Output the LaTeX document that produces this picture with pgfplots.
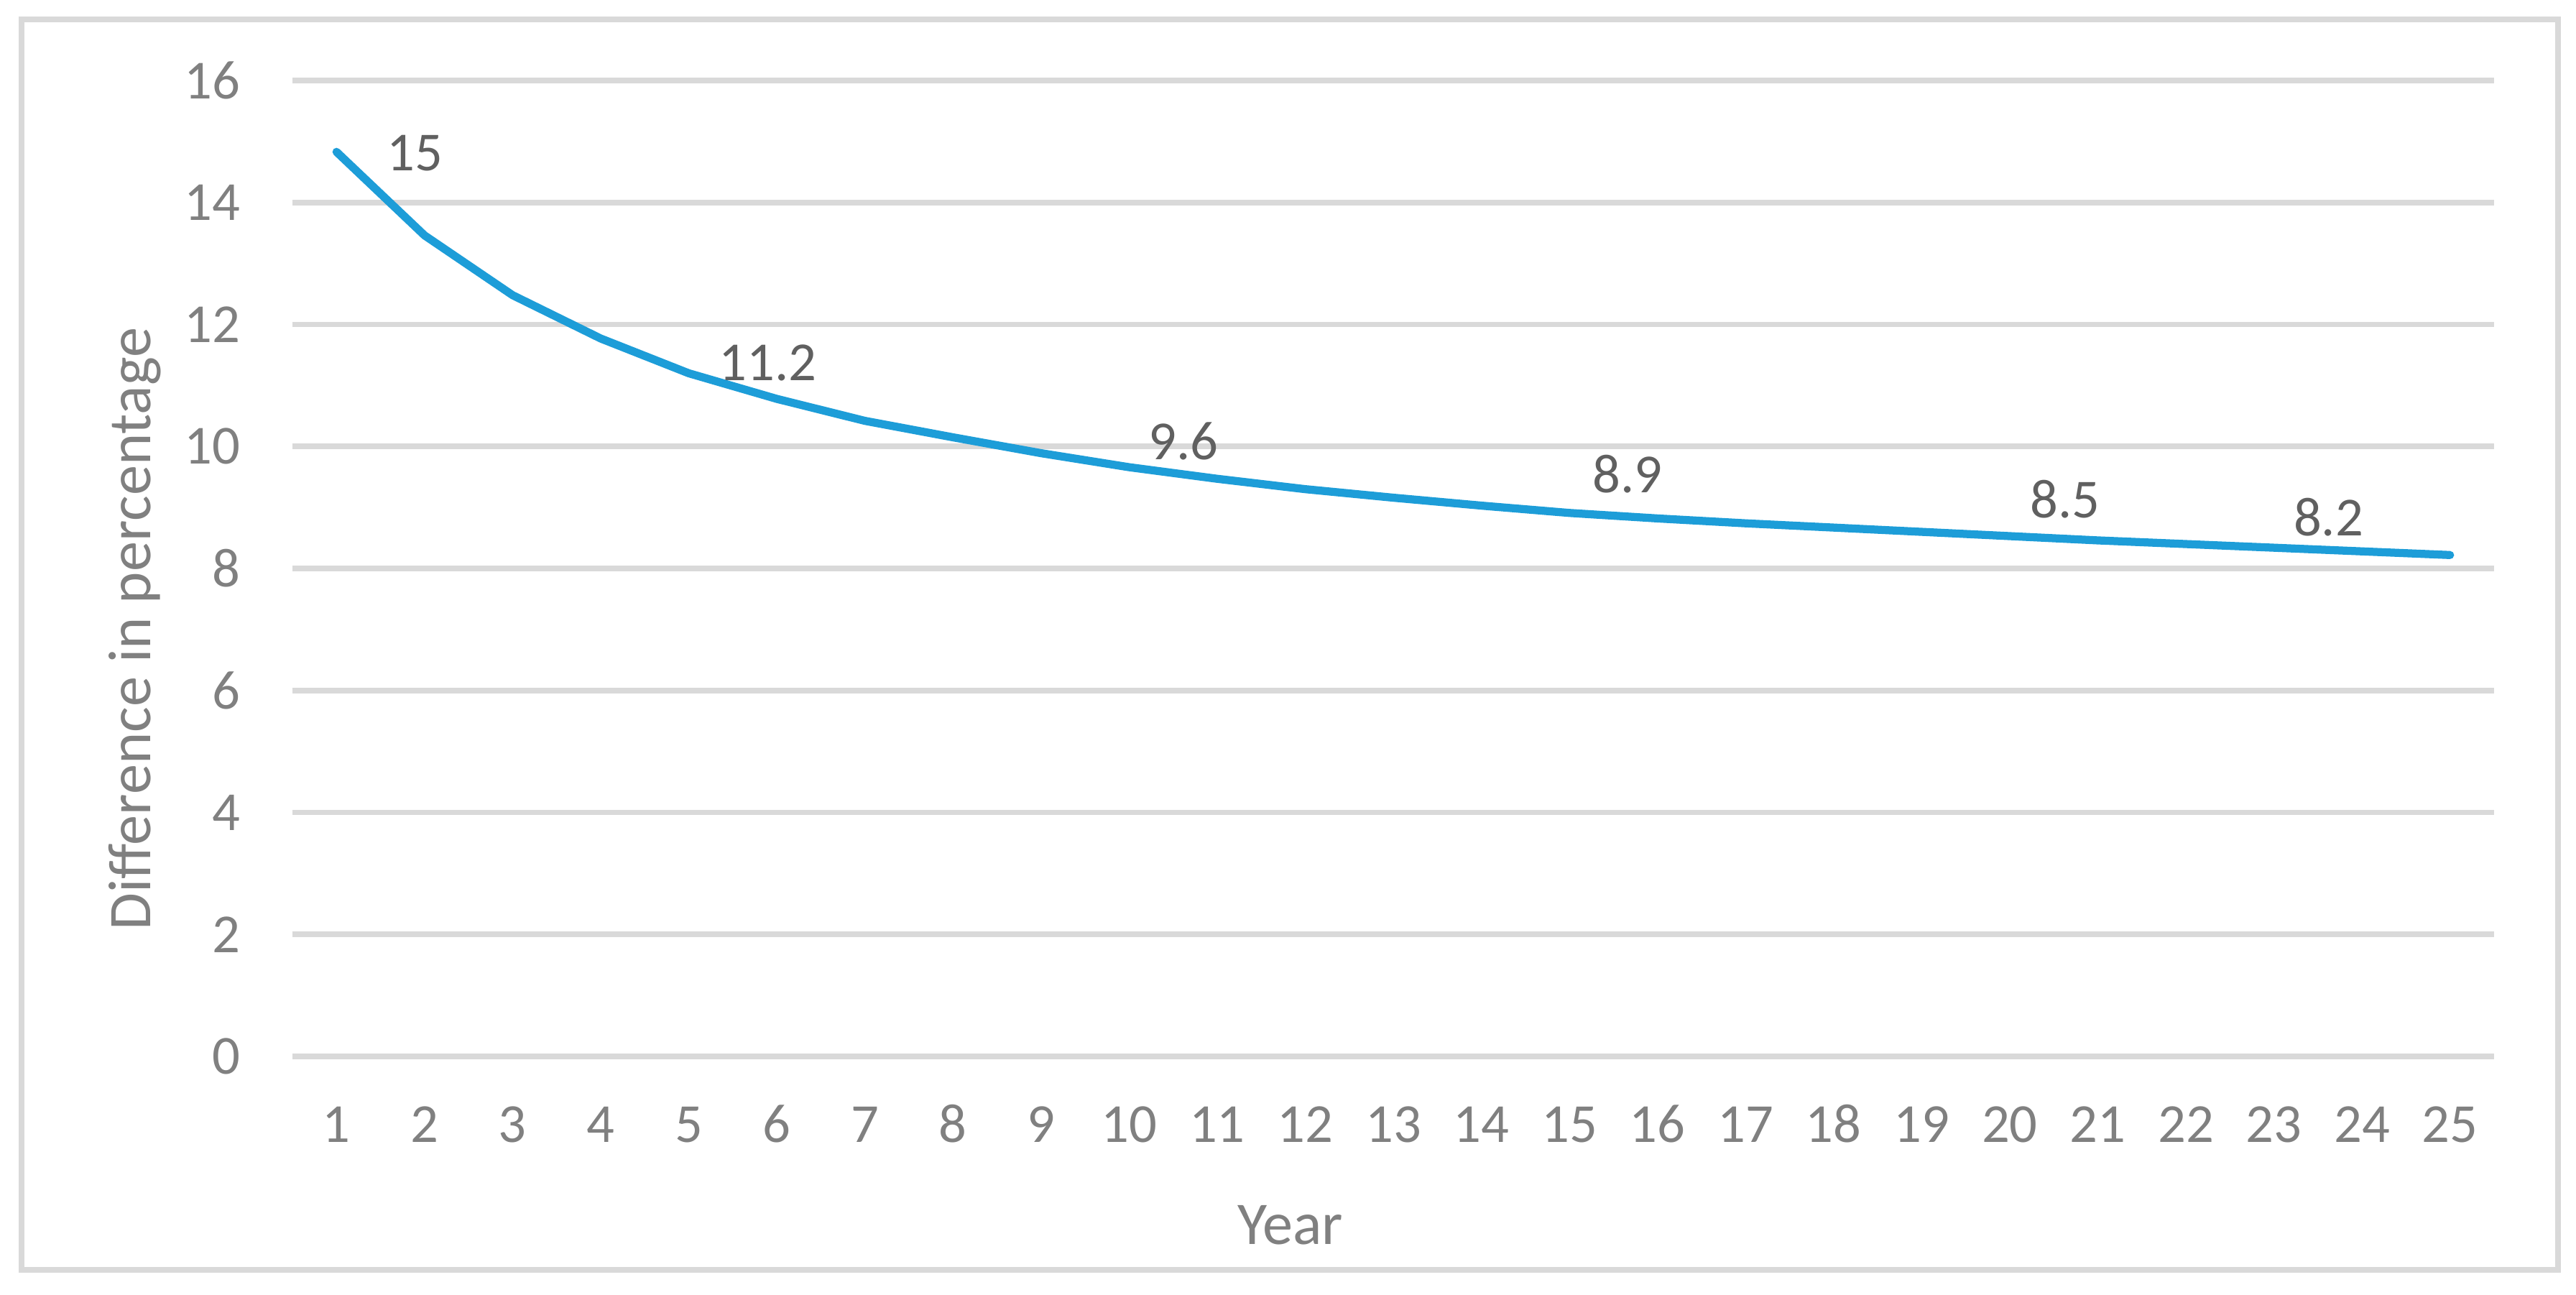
\documentclass[border=0pt]{standalone}
\usepackage{fontspec}
\setmainfont{Carlito}
\usepackage{pgfplots}
\pgfplotsset{compat=1.18}
\definecolor{linec}{RGB}{29,157,216}
\definecolor{gridc}{RGB}{217,217,217}
\definecolor{tickc}{RGB}{128,128,128}
\definecolor{lblc}{RGB}{96,96,96}
\begin{document}
\begin{tikzpicture}
\useasboundingbox (-20.35mm,-16.55mm) rectangle (158.9mm,73.5mm);
\draw[gridc, line width=0.38mm] (-18.85mm,-14.85mm) rectangle (157.65mm,72.15mm);
\begin{axis}[
  at={(0,0)}, anchor=south west,
  scale only axis, width=153.2mm, height=67.9mm,
  xmin=0.5, xmax=25.5, ymin=0, ymax=16,
  xtick={1,...,25}, ytick={0,2,...,16},
  ymajorgrids, major grid style={gridc, line width=0.38mm},
  axis line style={draw=none}, tick style={draw=none},
  /pgf/number format/assume math mode=true,
  ticklabel style={font=\fontsize{10.9}{13}\selectfont, text=tickc, inner sep=0pt},
  xticklabel style={anchor=base, yshift=-5.97mm},
  yticklabel style={anchor=east, xshift=-3.55mm},
  xlabel={Year}, ylabel={Difference in percentage},
  label style={font=\fontsize{12}{14}\selectfont, text=tickc, inner sep=0pt},
  xlabel style={at={(axis description cs:0.4533,-0.1928)}, anchor=base},
  ylabel style={at={(axis description cs:-0.0643,0.438)}, anchor=base},
  clip=false,
]
\addplot[linec, line width=1.6pt, line cap=round, line join=round, mark=none] coordinates {
(1,14.83) (2,13.46) (3,12.48) (4,11.77) (5,11.20) (6,10.78) (7,10.42) (8,10.15) (9,9.89)
(10,9.66) (11,9.47) (12,9.30) (13,9.16) (14,9.03) (15,8.91) (16,8.82) (17,8.74) (18,8.67)
(19,8.60) (20,8.53) (21,8.46) (22,8.40) (23,8.34) (24,8.28) (25,8.22)
};
\begin{scope}[every node/.style={font=\fontsize{10.9}{13}\selectfont, text=lblc, inner sep=0pt, anchor=center}]
\node at (axis cs:1.89,14.81) {15};
\node at (axis cs:5.90,11.37) {11.2};
\node at (axis cs:10.62,10.09) {9.6};
\node at (axis cs:15.66,9.55) {8.9};
\node at (axis cs:20.63,9.13) {8.5};
\node at (axis cs:23.62,8.84) {8.2};
\end{scope}
\end{axis}
\end{tikzpicture}
\end{document}
